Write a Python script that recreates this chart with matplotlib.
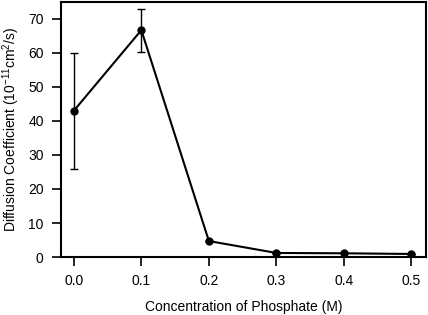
import matplotlib
matplotlib.use("Agg")
import matplotlib.pyplot as plt

# data
conc = [0.0, 0.1, 0.2, 0.3, 0.4, 0.5]
diff_coef = [43.0, 66.7, 4.7, 1.2, 1.1, 0.9]
err = [17.0, 6.3, 0, 0, 0, 0]
x_ticks = [0.0, 0.1, 0.2, 0.3, 0.4, 0.5]
y_ticks = [0, 10, 20, 30, 40, 50, 60, 70]

plt.rcParams['font.family'] = ['Liberation Sans', 'DejaVu Sans']
plt.rcParams['font.size'] = 10
plt.rcParams['mathtext.fontset'] = 'custom'
plt.rcParams['mathtext.rm'] = 'Liberation Sans'
plt.rcParams['mathtext.it'] = 'Liberation Sans'

fig = plt.figure(figsize=(4.28, 3.15), dpi=100)
ax = fig.add_axes([0.1425, 0.184, 0.852, 0.81])

ax.errorbar(conc, diff_coef, yerr=err, color='black', marker='o', markersize=5,
            linewidth=1.5, elinewidth=1, capsize=3, capthick=1)

ax.set_xlim(-0.019, 0.521)
ax.set_ylim(0, 75)
ax.set_xticks(x_ticks)
ax.set_xticklabels([f"{t:.1f}" for t in x_ticks])
ax.set_yticks(y_ticks)
ax.tick_params(direction='out', length=6.5, width=1.2, pad=6)
for s in ax.spines.values():
    s.set_linewidth(1.5)

ax.set_xlabel('Concentration of Phosphate (M)', labelpad=8)
ax.set_ylabel('Diffusion Coefficient (10$^{-11}$cm$^2$/s)', labelpad=4)

fig.savefig('out.png', dpi=100)
